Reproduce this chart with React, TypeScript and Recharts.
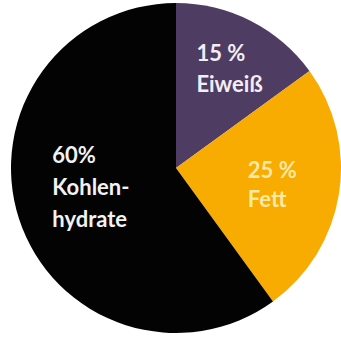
import React from 'react';
import { PieChart, Pie, Cell } from 'recharts';

const categories = ['Eiweiß', 'Fett', 'Kohlenhydrate'];
const values = [15, 25, 60];
const labelLines = [
  ['15 %', 'Eiweiß'],
  ['25 %', 'Fett'],
  ['60%', 'Kohlen-', 'hydrate'],
];

const colors = ['#4f3c63', '#f8ab00', '#030303'];
const textColors = ['#f3eef4', '#fde9a6', '#f2f2f2'];
const radiusFactors = [0.673, 0.588, 0.533];
const dxs = [-30, -24, -40];
const dys = [-8, -5, -32];
const lineHeights = [31, 29, 32];

const data = categories.map((name, i) => ({ name, value: values[i] }));

const RAD = Math.PI / 180;

const renderLabel = (props: any) => {
  const { cx, cy, midAngle, outerRadius, index } = props;
  const r = outerRadius * radiusFactors[index];
  const px = cx + Math.cos(-midAngle * RAD) * r;
  const py = cy + Math.sin(-midAngle * RAD) * r;
  const x = px + dxs[index];
  const y0 = py + dys[index];
  return (
    <text
      key={`lbl-${index}`}
      x={x}
      y={y0}
      fill={textColors[index]}
      textAnchor="start"
      fontFamily="Lato, sans-serif"
      fontWeight={700}
      fontSize={22}
    >
      {labelLines[index].map((line, j) => (
        <tspan key={j} x={x} y={y0 + j * lineHeights[index]}>
          {line}
        </tspan>
      ))}
    </text>
  );
};

export default function App() {
  return (
    <div style={{ position: 'absolute', left: 0, top: 0, width: 341, height: 337, background: '#ffffff' }}>
      <PieChart width={341} height={337} margin={{ top: 0, right: 0, bottom: 0, left: 0 }}>
        <Pie
          data={data}
          dataKey="value"
          nameKey="name"
          cx={176}
          cy={168}
          outerRadius={165}
          innerRadius={0}
          startAngle={90}
          endAngle={-270}
          stroke="none"
          label={renderLabel}
          labelLine={false}
          isAnimationActive={false}
        >
          {data.map((d, i) => (
            <Cell key={d.name} fill={colors[i]} />
          ))}
        </Pie>
      </PieChart>
    </div>
  );
}
